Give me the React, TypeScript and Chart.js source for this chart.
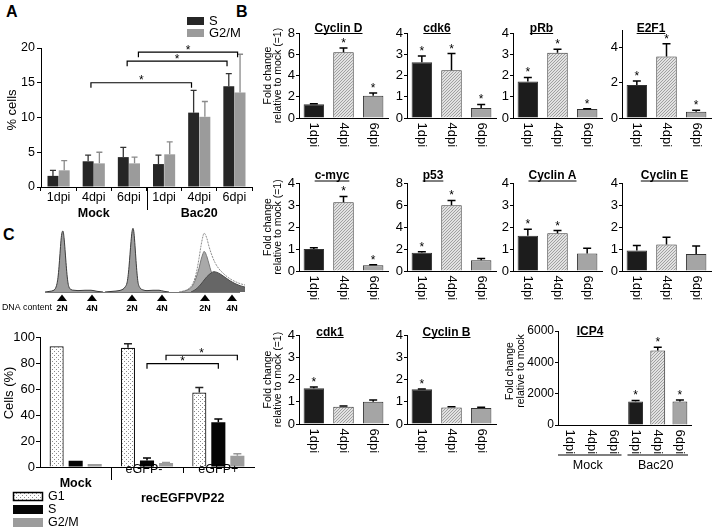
import React, { useEffect, useRef } from "react";
import { Chart, registerables } from "chart.js";

Chart.register(...registerables);

const FONT = "'Liberation Sans', Arial, Helvetica, sans-serif";
Chart.defaults.font.family = FONT;
Chart.defaults.color = "#000";

// ---------------- Panel A data ----------------
const A_CATEGORIES = ["1dpi", "4dpi", "6dpi", "1dpi", "4dpi", "6dpi"];
const A_GROUP_LABELS = ["Mock", "Bac20"];
const A_SERIES = ["S", "G2/M"];
const A_S = [1.6, 3.7, 4.3, 3.3, 10.7, 14.5];
const A_S_ERR = [0.8, 0.9, 1.4, 1.3, 3.2, 1.8];
const A_G2M = [2.4, 3.4, 3.4, 4.7, 10.1, 13.6];
const A_G2M_ERR = [1.4, 1.6, 0.9, 1.8, 2.2, 5.5];
const A_BRACKET_FROM = [0.92, 1.95, 2.27];
const A_BRACKET_TO = [3.78, 4.79, 5.09];
const A_BRACKET_LEVEL = [15, 18.1, 19.4];

// ---------------- Panel B data ----------------
const B_CATEGORIES = ["1dpi", "4dpi", "6dpi"];
const CYCLIN_D = [1.3, 6.2, 2.1];
const CYCLIN_D_ERR = [0.05, 0.4, 0.25];
const CYCLIN_D_SIG = [false, true, true];
const CDK6 = [2.62, 2.25, 0.47];
const CDK6_ERR = [0.3, 0.78, 0.17];
const CDK6_SIG = [true, true, true];
const PRB = [1.72, 3.07, 0.42];
const PRB_ERR = [0.19, 0.16, 0.02];
const PRB_SIG = [true, true, true];
const E2F1 = [1.88, 3.5, 0.36];
const E2F1_ERR = [0.22, 0.72, 0.08];
const E2F1_SIG = [true, true, true];
const CMYC = [1.0, 3.12, 0.26];
const CMYC_ERR = [0.06, 0.27, 0.02];
const CMYC_SIG = [false, true, true];
const P53 = [1.65, 5.97, 0.98];
const P53_ERR = [0.1, 0.45, 0.15];
const P53_SIG = [true, true, false];
const CYCLIN_A = [1.6, 1.72, 0.8];
const CYCLIN_A_ERR = [0.3, 0.12, 0.23];
const CYCLIN_A_SIG = [true, true, false];
const CYCLIN_E = [0.93, 1.2, 0.77];
const CYCLIN_E_ERR = [0.23, 0.33, 0.37];
const CYCLIN_E_SIG = [false, false, false];
const CDK1 = [1.61, 0.77, 1.0];
const CDK1_ERR = [0.05, 0.04, 0.08];
const CDK1_SIG = [true, false, false];
const CYCLIN_B = [1.56, 0.74, 0.72];
const CYCLIN_B_ERR = [0.01, 0.03, 0.03];
const CYCLIN_B_SIG = [true, false, false];
const ICP4_CATEGORIES = ["1dpi", "4dpi", "6dpi", "1dpi", "4dpi", "6dpi"];
const ICP4_GROUPS = ["Mock", "Bac20"];
const ICP4 = [0, 0, 0, 1500, 4750, 1500];
const ICP4_ERR = [0, 0, 0, 70, 220, 90];
const ICP4_SIG = [false, false, false, true, true, true];

// ---------------- Panel C data ----------------
const C_GROUPS = ["Mock", "eGFP-", "eGFP+"];
const C_SERIES = ["G1", "S", "G2/M"];
const C_G1 = [93.5, 92.3, 57.7];
const C_G1_ERR = [0, 3.1, 3.8];
const C_S = [4.8, 5.1, 34.6];
const C_S_ERR = [0, 1.8, 2.6];
const C_G2M = [2.3, 3.1, 8.7];
const C_G2M_ERR = [0, 0.4, 1.5];
const C_BRACKET_SERIES = [1, 2];
const C_BRACKET_LEVEL = [80, 86.5];

// flow cytometry histograms (channel, count)
const HIST_MOCK_X = [0, 5, 8, 10, 11, 12, 13, 14, 15, 16, 17, 18, 19, 20, 21, 22, 23, 24, 26, 29, 33, 40, 46, 52, 58];
const HIST_MOCK_Y = [0, 1, 2, 4, 7, 12, 21, 36, 55, 74, 85, 87, 78, 61, 42, 25, 13, 7, 3.5, 2.5, 2, 2.5, 2.5, 1, 0];
const HIST_NEG_X = [60, 68, 74, 78, 80, 82, 83, 84, 85, 86, 87, 88, 89, 90, 91, 92, 93, 95, 98, 102, 108, 114, 119, 124];
const HIST_NEG_Y = [0, 1, 2, 4, 7, 13, 22, 36, 54, 72, 86, 91, 84, 66, 45, 27, 14, 6, 3, 2, 2.5, 2.5, 1, 0];
const HIST_POS_X = [134, 140, 144, 147, 150, 152, 154, 156, 158, 159, 160, 162, 164, 167, 170, 174, 178, 182, 186, 190, 195, 200];
const HIST_POS_Y = [0, 2, 5, 10, 20, 32, 48, 66, 80, 84, 83, 76, 65, 52, 42, 33, 27, 22, 18, 15, 12, 10];
const HIST_POS_G1_X = [136, 141, 145, 148, 151, 154, 156, 158, 159, 160, 162, 164, 166, 169, 172, 176, 180];
const HIST_POS_G1_Y = [0, 2, 5, 10, 20, 34, 46, 55, 58, 57, 50, 40, 30, 18, 9, 3, 0];
const HIST_POS_S_X = [146, 150, 154, 158, 162, 166, 169, 172, 176, 180, 185, 190, 195, 200];
const HIST_POS_S_Y = [0, 3, 8, 15, 22, 27, 29, 28, 25, 21, 16, 12, 9, 7];
const HIST_MARKERS = [17, 47, 87, 117, 160, 187];
const HIST_MARKER_LABELS = ["2N", "4N", "2N", "4N", "2N", "4N"];

// ---------------- helpers ----------------
type Box = { x: number; y: number; w: number; h: number };
type Rect = { l: number; t: number; r: number; b: number };

function boxOf(a: Rect, m: Rect): Box {
  return { x: a.l - m.l, y: a.t - m.t, w: a.r - a.l + m.l + m.r, h: a.b - a.t + m.t + m.b };
}

const collapseX = (s: any) => {
  s.height = 0;
};

function baseOptions(m: Rect, yInPadding: boolean) {
  return {
    animation: false,
    responsive: false,
    maintainAspectRatio: false,
    events: [],
    layout: { padding: { left: yInPadding ? m.l : 0, top: m.t, right: m.r, bottom: m.b } },
    plugins: { legend: { display: false }, tooltip: { enabled: false }, title: { display: false } },
  };
}

function yAxis(max: number, step: number, size: number, tickLen: number, pad: number, width: number) {
  return {
    min: 0,
    max,
    ticks: {
      stepSize: step,
      font: { size, family: FONT },
      color: "#000",
      padding: pad,
      callback: (v: any) => String(v),
    },
    grid: { display: true, drawOnChartArea: false, drawTicks: true, tickLength: tickLen, color: "#000", lineWidth: 1 },
    border: { display: true, color: "#000", width: 1 },
    afterFit: (s: any) => {
      s.width = width;
    },
  };
}

function xAxis(tickLen: number) {
  return {
    ticks: { display: false },
    grid: tickLen
      ? { display: true, drawOnChartArea: false, drawTicks: true, tickLength: tickLen, color: "#000", lineWidth: 1 }
      : { display: false },
    border: { display: true, color: "#000", width: 1 },
    afterFit: collapseX,
  };
}

function makeHatch() {
  const s = 3;
  const c = document.createElement("canvas");
  c.width = s;
  c.height = s;
  const g = c.getContext("2d")!;
  g.fillStyle = "#e2e2e2";
  g.fillRect(0, 0, s, s);
  g.fillStyle = "#a0a0a0";
  g.fillRect(2, 0, 1, 1);
  g.fillRect(1, 1, 1, 1);
  g.fillRect(0, 2, 1, 1);
  return g.createPattern(c, "repeat");
}

function makeDots() {
  const s = 4;
  const c = document.createElement("canvas");
  c.width = s;
  c.height = s;
  const g = c.getContext("2d")!;
  g.fillStyle = "#ffffff";
  g.fillRect(0, 0, s, s);
  g.fillStyle = "#8c8c8c";
  g.fillRect(0, 0, 1, 1);
  g.fillRect(2, 2, 1, 1);
  return g.createPattern(c, "repeat");
}

function drawErrorsAndStars(chart: any, capW: number, lw: number, starSize: number) {
  const ctx = chart.ctx;
  const ys = chart.scales.y;
  chart.data.datasets.forEach((ds: any, di: number) => {
    const meta = chart.getDatasetMeta(di);
    meta.data.forEach((bar: any, i: number) => {
      const v = ds.data[i];
      if (v == null) return;
      const e = ds.errors ? ds.errors[i] : 0;
      let top = ys.getPixelForValue(v);
      ctx.save();
      if (e > 0) {
        const ty = ys.getPixelForValue(v + e);
        ctx.strokeStyle = ds.errorColor || "#000";
        ctx.lineWidth = lw;
        ctx.beginPath();
        ctx.moveTo(bar.x, top);
        ctx.lineTo(bar.x, ty);
        ctx.moveTo(bar.x - capW / 2, ty);
        ctx.lineTo(bar.x + capW / 2, ty);
        ctx.stroke();
        top = ty;
      }
      if (ds.sig && ds.sig[i]) {
        ctx.fillStyle = "#000";
        ctx.font = `${starSize}px ${FONT}`;
        ctx.textAlign = "center";
        ctx.textBaseline = "alphabetic";
        ctx.fillText("*", bar.x, top - 1);
      }
      ctx.restore();
    });
  });
}

function drawText(ctx: any, text: string, x: number, y: number, size: number, bold = false, align = "center") {
  ctx.save();
  ctx.fillStyle = "#000";
  ctx.font = `${bold ? "bold " : ""}${size}px ${FONT}`;
  ctx.textAlign = align;
  ctx.textBaseline = "middle";
  ctx.fillText(text, x, y);
  ctx.restore();
}

function drawRotated(ctx: any, text: string, x: number, y: number, size: number) {
  ctx.save();
  ctx.translate(x, y);
  ctx.rotate(-Math.PI / 2);
  ctx.fillStyle = "#000";
  ctx.font = `${size}px ${FONT}`;
  ctx.textAlign = "center";
  ctx.textBaseline = "middle";
  ctx.fillText(text, 0, 0);
  ctx.restore();
}

function drawVLabels(chart: any, labels: string[], gap: number, size: number) {
  const ctx = chart.ctx;
  const xs = chart.scales.x;
  const bottom = chart.chartArea.bottom;
  ctx.save();
  ctx.fillStyle = "#000";
  ctx.font = `${size}px ${FONT}`;
  ctx.textAlign = "left";
  ctx.textBaseline = "middle";
  labels.forEach((lab, i) => {
    const x = xs.getPixelForValue(i);
    ctx.save();
    ctx.translate(x, bottom + gap);
    ctx.rotate(Math.PI / 2);
    ctx.fillText(lab, 0, 0);
    ctx.restore();
  });
  ctx.restore();
}

function drawTitle(ctx: any, text: string, x: number, baseY: number, size: number) {
  ctx.save();
  ctx.fillStyle = "#000";
  ctx.font = `bold ${size}px ${FONT}`;
  ctx.textAlign = "center";
  ctx.textBaseline = "alphabetic";
  ctx.fillText(text, x, baseY);
  const w = ctx.measureText(text).width;
  ctx.strokeStyle = "#000";
  ctx.lineWidth = 1;
  ctx.beginPath();
  ctx.moveTo(x - w / 2, baseY + 2);
  ctx.lineTo(x + w / 2, baseY + 2);
  ctx.stroke();
  ctx.restore();
}

function drawBracket(ctx: any, x1: number, x2: number, y: number, drop: number, starSize: number) {
  ctx.save();
  ctx.strokeStyle = "#000";
  ctx.lineWidth = 1.2;
  ctx.beginPath();
  ctx.moveTo(x1, y + drop);
  ctx.lineTo(x1, y);
  ctx.lineTo(x2, y);
  ctx.lineTo(x2, y + drop);
  ctx.stroke();
  ctx.fillStyle = "#000";
  ctx.font = `${starSize}px ${FONT}`;
  ctx.textAlign = "center";
  ctx.textBaseline = "alphabetic";
  ctx.fillText("*", (x1 + x2) / 2, y + 1.5);
  ctx.restore();
}

function ChartCanvas({ box, build }: { box: Box; build: () => any }) {
  const ref = useRef<HTMLCanvasElement | null>(null);
  useEffect(() => {
    if (!ref.current) return;
    const chart = new Chart(ref.current, build());
    return () => chart.destroy();
  }, []);
  return (
    <canvas
      ref={ref}
      width={box.w}
      height={box.h}
      style={{ position: "absolute", left: box.x, top: box.y, width: box.w, height: box.h }}
    />
  );
}

// ---------------- Panel A ----------------
const A_AREA: Rect = { l: 41, t: 48, r: 252, b: 187 };
const A_M: Rect = { l: 41, t: 48, r: 8, b: 40 };
const A_BOX = boxOf(A_AREA, A_M);
const A_DARK = "#262626";
const A_GRAY = "#9b9b9b";

function buildA() {
  return {
    type: "bar",
    data: {
      labels: A_CATEGORIES,
      datasets: [
        { label: A_SERIES[0], data: A_S, errors: A_S_ERR, errorColor: "#333", backgroundColor: A_DARK, borderWidth: 0, categoryPercentage: 0.64, barPercentage: 0.97 },
        { label: A_SERIES[1], data: A_G2M, errors: A_G2M_ERR, errorColor: "#8a8a8a", backgroundColor: A_GRAY, borderWidth: 0, categoryPercentage: 0.64, barPercentage: 0.97 },
      ],
    },
    options: { ...baseOptions(A_M, false), scales: { x: xAxis(4), y: yAxis(20, 5, 12.5, 4, 2, A_M.l) } },
    plugins: [
      {
        id: "decoA",
        afterDatasetsDraw: (c: any) => drawErrorsAndStars(c, 6, 1.3, 12),
        afterDraw: (c: any) => {
          const ctx = c.ctx;
          const xs = c.scales.x;
          const ys = c.scales.y;
          const ox = A_BOX.x;
          const oy = A_BOX.y;
          A_CATEGORIES.forEach((lab, i) => drawText(ctx, lab, xs.getPixelForValue(i), 198 - oy, 12.5));
          drawText(ctx, A_GROUP_LABELS[0], xs.getPixelForValue(1), 214 - oy, 12.5, true);
          drawText(ctx, A_GROUP_LABELS[1], xs.getPixelForValue(4), 214 - oy, 12.5, true);
          const sep = (xs.getPixelForValue(2) + xs.getPixelForValue(3)) / 2;
          ctx.save();
          ctx.strokeStyle = "#000";
          ctx.lineWidth = 1;
          ctx.beginPath();
          ctx.moveTo(Math.round(sep) + 0.5, c.chartArea.bottom);
          ctx.lineTo(Math.round(sep) + 0.5, 210 - oy);
          ctx.stroke();
          ctx.restore();
          // legend
          ctx.save();
          ctx.fillStyle = A_DARK;
          ctx.fillRect(187 - ox, 17 - oy, 17, 8);
          ctx.fillStyle = A_GRAY;
          ctx.fillRect(187 - ox, 29 - oy, 17, 8);
          ctx.restore();
          drawText(ctx, A_SERIES[0], 209 - ox, 21 - oy, 13, false, "left");
          drawText(ctx, A_SERIES[1], 209 - ox, 33 - oy, 13, false, "left");
          drawRotated(ctx, "% cells", 12.5 - ox, 110 - oy, 13);
          const x0 = xs.getPixelForValue(0);
          const cw = xs.getPixelForValue(1) - x0;
          A_BRACKET_LEVEL.forEach((lv, k) => {
            drawBracket(ctx, x0 + A_BRACKET_FROM[k] * cw, x0 + A_BRACKET_TO[k] * cw, ys.getPixelForValue(lv), 5, 12);
          });
        },
      },
    ],
  };
}

// ---------------- Panel B ----------------
const COL_L = [299, 407, 513, 622];
const COL_W = 89;
const ROW_T = [33, 183, 335];
const ROW_B = [118, 271, 424];
const TITLE_BASE = [31.5, 179, 335.5];
const B_DARK = "#1c1c1c";
const B_LIGHT = "#a5a5a5";
const FOLD_TITLE = ["Fold change", "relative to mock (=1)"];

type BSpec = {
  title: string;
  cats: string[];
  vals: number[];
  errs: number[];
  sig: boolean[];
  max: number;
  step: number;
  area: Rect;
  margin: Rect;
  titleX: number;
  titleY: number;
  tickSize: number;
  yTitle?: string[];
  yTitleX?: number[];
  yTitleY?: number;
  groups?: { label: string; from: number; to: number }[];
  barPct: number;
};

function smallSpec(title: string, vals: number[], errs: number[], sig: boolean[], max: number, step: number, col: number, row: number, titleX: number, topOverride?: number): BSpec {
  const top = topOverride ?? ROW_T[row];
  const area = { l: COL_L[col], t: top, r: COL_L[col] + COL_W, b: ROW_B[row] };
  const margin = { l: col === 0 ? 46 : 24, t: top - (ROW_T[row] - 14), r: 6, b: 34 };
  return {
    title, cats: B_CATEGORIES, vals, errs, sig, max, step, area, margin, titleX, titleY: TITLE_BASE[row],
    tickSize: 13,
    yTitle: col === 0 ? FOLD_TITLE : undefined,
    yTitleX: [268.5, 278.5],
    yTitleY: (ROW_T[row] + ROW_B[row]) / 2,
    barPct: 0.69,
  };
}

const B_SPECS: BSpec[] = [
  smallSpec("Cyclin D", CYCLIN_D, CYCLIN_D_ERR, CYCLIN_D_SIG, 8, 2, 0, 0, 338.5),
  smallSpec("cdk6", CDK6, CDK6_ERR, CDK6_SIG, 4, 1, 1, 0, 437),
  smallSpec("pRb", PRB, PRB_ERR, PRB_SIG, 4, 1, 2, 0, 541.5),
  smallSpec("E2F1", E2F1, E2F1_ERR, E2F1_SIG, 5, 1, 3, 0, 651, 30),
  smallSpec("c-myc", CMYC, CMYC_ERR, CMYC_SIG, 4, 1, 0, 1, 332),
  smallSpec("p53", P53, P53_ERR, P53_SIG, 8, 2, 1, 1, 433),
  smallSpec("Cyclin A", CYCLIN_A, CYCLIN_A_ERR, CYCLIN_A_SIG, 4, 1, 2, 1, 552.5),
  smallSpec("Cyclin E", CYCLIN_E, CYCLIN_E_ERR, CYCLIN_E_SIG, 4, 1, 3, 1, 664.5),
  smallSpec("cdk1", CDK1, CDK1_ERR, CDK1_SIG, 4, 1, 0, 2, 330),
  smallSpec("Cyclin B", CYCLIN_B, CYCLIN_B_ERR, CYCLIN_B_SIG, 4, 1, 1, 2, 446.5),
  {
    title: "ICP4",
    cats: ICP4_CATEGORIES,
    vals: ICP4,
    errs: ICP4_ERR,
    sig: ICP4_SIG,
    max: 6000,
    step: 2000,
    area: { l: 558, t: 331, r: 691, b: 425 },
    margin: { l: 56, t: 12, r: 6, b: 50 },
    titleX: 590,
    titleY: 334.5,
    tickSize: 12,
    yTitle: ["Fold change", "relative to mock"],
    yTitleX: [510.5, 521.5],
    yTitleY: 371,
    groups: [
      { label: ICP4_GROUPS[0], from: 0, to: 2 },
      { label: ICP4_GROUPS[1], from: 3, to: 5 },
    ],
    barPct: 0.67,
  },
];

function bBuilder(spec: BSpec, box: Box) {
  return () => {
    const hatch = makeHatch();
    const colors = spec.vals.map((_, i) => [B_DARK, hatch, B_LIGHT][i % 3]);
    return {
      type: "bar",
      data: {
        labels: spec.cats,
        datasets: [
          {
            data: spec.vals,
            errors: spec.errs,
            sig: spec.sig,
            errorColor: "#000",
            backgroundColor: colors,
            borderColor: "#333",
            borderWidth: 1,
            barPercentage: spec.barPct,
            categoryPercentage: 1,
          },
        ],
      },
      options: {
        ...baseOptions(spec.margin, false),
        scales: { x: xAxis(0), y: yAxis(spec.max, spec.step, spec.tickSize, 3, 1, spec.margin.l) },
      },
      plugins: [
        {
          id: "decoB",
          afterDatasetsDraw: (c: any) => drawErrorsAndStars(c, 8, 1.5, 12),
          afterDraw: (c: any) => {
            const ctx = c.ctx;
            const ox = box.x;
            const oy = box.y;
            drawVLabels(c, spec.cats, 4.5, 13);
            drawTitle(ctx, spec.title, spec.titleX - ox, spec.titleY - oy, 12);
            if (spec.yTitle && spec.yTitleX && spec.yTitleY != null) {
              spec.yTitle.forEach((t, k) => drawRotated(ctx, t, spec.yTitleX![k] - ox, spec.yTitleY! - oy, 10.5));
            }
            if (spec.groups) {
              const xs = c.scales.x;
              const w = xs.getPixelForValue(1) - xs.getPixelForValue(0);
              const ly = spec.area.b + 30 - oy;
              spec.groups.forEach((g) => {
                const x1 = xs.getPixelForValue(g.from) - w / 2 + (g.from === 0 ? 0 : 3);
                const x2 = xs.getPixelForValue(g.to) + w / 2 - 3;
                ctx.save();
                ctx.strokeStyle = "#000";
                ctx.lineWidth = 1.2;
                ctx.beginPath();
                ctx.moveTo(x1, ly);
                ctx.lineTo(x2, ly);
                ctx.stroke();
                ctx.restore();
                drawText(ctx, g.label, (x1 + x2) / 2 - 2, ly + 11, 12.5);
              });
            }
          },
        },
      ],
    };
  };
}

// ---------------- Panel C histogram ----------------
const H_AREA: Rect = { l: 45, t: 222, r: 245, b: 292 };
const H_M: Rect = { l: 45, t: 4, r: 4, b: 25 };
const H_BOX = boxOf(H_AREA, H_M);

function pts(xs: number[], ys: number[]) {
  return xs.map((x, i) => ({ x, y: ys[i] }));
}

function buildHist() {
  const common = { pointRadius: 0, borderWidth: 1, cubicInterpolationMode: "monotone", fill: "origin" };
  return {
    type: "line",
    data: {
      datasets: [
        { ...common, data: pts(HIST_POS_S_X, HIST_POS_S_Y), backgroundColor: "#666666", borderColor: "#4a4a4a" },
        { ...common, data: pts(HIST_POS_G1_X, HIST_POS_G1_Y), backgroundColor: "#a9a9a9", borderColor: "#7a7a7a" },
        { ...common, data: pts(HIST_POS_X, HIST_POS_Y), backgroundColor: "#ffffff", borderColor: "#8a8a8a", borderDash: [2, 1] },
        { ...common, data: pts(HIST_MOCK_X, HIST_MOCK_Y), backgroundColor: "#9d9d9d", borderColor: "#3a3a3a" },
        { ...common, data: pts(HIST_NEG_X, HIST_NEG_Y), backgroundColor: "#9d9d9d", borderColor: "#3a3a3a" },
      ],
    },
    options: {
      ...baseOptions(H_M, true),
      scales: {
        x: { type: "linear", min: 0, max: 200, display: false },
        y: { min: 0, max: 100, display: false },
      },
    },
    plugins: [
      {
        id: "decoH",
        afterDatasetsDraw: (c: any) => {
          const ctx = c.ctx;
          const a = c.chartArea;
          ctx.save();
          ctx.strokeStyle = "#777";
          ctx.lineWidth = 1;
          ctx.beginPath();
          ctx.moveTo(a.left, Math.round(a.bottom) + 0.5);
          ctx.lineTo(a.right - 5, Math.round(a.bottom) + 0.5);
          ctx.stroke();
          ctx.restore();
        },
        afterDraw: (c: any) => {
          const ctx = c.ctx;
          const xs = c.scales.x;
          const oy = H_BOX.y;
          const ox = H_BOX.x;
          HIST_MARKERS.forEach((ch, i) => {
            const x = xs.getPixelForValue(ch);
            ctx.save();
            ctx.fillStyle = "#000";
            ctx.beginPath();
            ctx.moveTo(x, 294.5 - oy);
            ctx.lineTo(x - 5, 301 - oy);
            ctx.lineTo(x + 5, 301 - oy);
            ctx.closePath();
            ctx.fill();
            ctx.restore();
            drawText(ctx, HIST_MARKER_LABELS[i], x, 308.5 - oy, 9, true);
          });
          drawText(ctx, "DNA content", 2 - ox, 308 - oy, 8.8, false, "left");
        },
      },
    ],
  };
}

// ---------------- Panel C bars ----------------
const C_AREA: Rect = { l: 40, t: 337, r: 254, b: 467 };
const C_M: Rect = { l: 40, t: 8, r: 4, b: 63 };
const C_BOX = boxOf(C_AREA, C_M);

function buildC() {
  const dots = makeDots();
  const bp = { categoryPercentage: 0.8, barPercentage: 0.74 };
  return {
    type: "bar",
    data: {
      labels: C_GROUPS,
      datasets: [
        { label: C_SERIES[0], data: C_G1, errors: C_G1_ERR, errorColor: "#222", backgroundColor: dots, borderColor: "#111", borderWidth: 1.2, ...bp },
        { label: C_SERIES[1], data: C_S, errors: C_S_ERR, errorColor: "#000", backgroundColor: "#050505", borderWidth: 0, ...bp },
        { label: C_SERIES[2], data: C_G2M, errors: C_G2M_ERR, errorColor: "#999", backgroundColor: "#9c9c9c", borderWidth: 0, ...bp },
      ],
    },
    options: { ...baseOptions(C_M, false), scales: { x: xAxis(0), y: yAxis(100, 20, 13, 4, 1, C_M.l) } },
    plugins: [
      {
        id: "decoC",
        afterDatasetsDraw: (c: any) => drawErrorsAndStars(c, 8, 1.5, 12),
        afterDraw: (c: any) => {
          const ctx = c.ctx;
          const xs = c.scales.x;
          const ys = c.scales.y;
          const ox = C_BOX.x;
          const oy = C_BOX.y;
          const bottom = c.chartArea.bottom;
          C_BRACKET_SERIES.forEach((ds, k) => {
            const meta = c.getDatasetMeta(ds);
            drawBracket(ctx, meta.data[1].x, meta.data[2].x, ys.getPixelForValue(C_BRACKET_LEVEL[k]), 5, 12);
          });
          const s1 = Math.round((xs.getPixelForValue(0) + xs.getPixelForValue(1)) / 2) + 0.5;
          const s2 = Math.round((xs.getPixelForValue(1) + xs.getPixelForValue(2)) / 2) + 0.5;
          ctx.save();
          ctx.strokeStyle = "#000";
          ctx.lineWidth = 1;
          ctx.beginPath();
          ctx.moveTo(s1, bottom);
          ctx.lineTo(s1, 480 - oy);
          ctx.moveTo(s2, bottom);
          ctx.lineTo(s2, 473 - oy);
          ctx.stroke();
          ctx.restore();
          drawText(ctx, C_GROUPS[0], xs.getPixelForValue(0), 484 - oy, 12.5, true);
          drawText(ctx, C_GROUPS[1], xs.getPixelForValue(1) - 3, 470 - oy, 12.5);
          drawText(ctx, C_GROUPS[2], xs.getPixelForValue(2), 470 - oy, 12.5);
          drawText(ctx, "recEGFPVP22", (xs.getPixelForValue(1) + xs.getPixelForValue(2)) / 2, 499 - oy, 12.5, true);
          drawRotated(ctx, "Cells (%)", 9 - ox, 393 - oy, 13);
          const fills = [dots, "#050505", "#9c9c9c"];
          const ly = [492, 505, 518];
          C_SERIES.forEach((name, k) => {
            ctx.save();
            ctx.fillStyle = fills[k];
            ctx.fillRect(13 - ox, ly[k] - oy, 30, 9);
            if (k === 0) {
              ctx.strokeStyle = "#000";
              ctx.lineWidth = 1.5;
              ctx.strokeRect(13.5 - ox, ly[k] + 0.5 - oy, 29, 8);
            }
            ctx.restore();
            drawText(ctx, name, 48 - ox, ly[k] + 4.5 - oy, 12.5, false, "left");
          });
        },
      },
    ],
  };
}

const letterStyle = (left: number, top: number): React.CSSProperties => ({
  position: "absolute",
  left,
  top,
  fontFamily: FONT,
  fontWeight: "bold",
  fontSize: 16,
  lineHeight: "16px",
  color: "#000",
});

export default function App() {
  return (
    <div style={{ position: "absolute", left: 0, top: 0, width: 717, height: 530, background: "#fff", overflow: "hidden" }}>
      <div style={letterStyle(6, 4)}>A</div>
      <div style={letterStyle(236, 4)}>B</div>
      <div style={letterStyle(3, 227)}>C</div>
      <ChartCanvas box={A_BOX} build={buildA} />
      {B_SPECS.map((s, i) => {
        const box = boxOf(s.area, s.margin);
        return <ChartCanvas key={i} box={box} build={bBuilder(s, box)} />;
      })}
      <ChartCanvas box={H_BOX} build={buildHist} />
      <ChartCanvas box={C_BOX} build={buildC} />
    </div>
  );
}
